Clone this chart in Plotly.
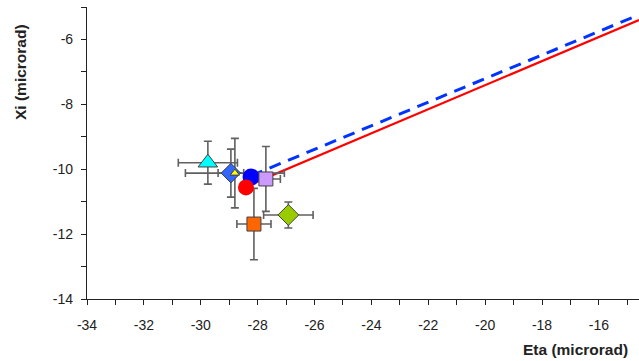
import plotly.graph_objects as go

# ---- data ----
names = ["cyan triangle", "blue diamond", "yellow triangle", "blue circle",
         "red circle", "lilac square", "orange square", "green diamond"]
eta = [-29.75, -28.94, -28.80, -28.23, -28.41, -27.71, -28.13, -26.92]
xi = [-9.80, -10.12, -10.12, -10.24, -10.56, -10.30, -11.69, -11.41]
eta_err = [1.04, 0.45, 1.74, 0.0, 0.0, 0.51, 0.60, 0.87]
xi_err = [0.66, 0.74, 1.07, 0.0, 0.0, 1.00, 1.10, 0.40]
symbols = ["triangle-up", "diamond", "triangle-up", "circle", "circle",
           "square", "square", "diamond"]
colors = ["#00FFFF", "#3366FF", "#FFFF00", "#0000FF", "#FF0000",
          "#CC99FF", "#FF6600", "#99CC00"]
sizes = [17, 15, 8, 17, 16, 14, 14, 16]
outlined = [True, True, True, False, False, True, True, True]

x_tickvals = [-34, -32, -30, -28, -26, -24, -22, -20, -18, -16]
x_ticktext = ["-34", "-32", "-30", "-28", "-26", "-24", "-22", "-20", "-18", "-16"]
y_tickvals = [-14, -12, -10, -8, -6]
y_ticktext = ["-14", "-12", "-10", "-8", "-6"]

# trend lines
red_eta = [-28.41, -14.59]
red_xi = [-10.53, -5.40]
blue_eta = [-28.23, -14.59]
blue_xi = [-10.20, -5.24]

fig = go.Figure()

fig.add_trace(go.Scatter(x=red_eta, y=red_xi, mode="lines",
                         line=dict(color="#FF0000", width=2.2), showlegend=False))
fig.add_trace(go.Scatter(x=blue_eta, y=blue_xi, mode="lines",
                         line=dict(color="#0033FF", width=3, dash="12px,8px"),
                         showlegend=False))

# error bars (behind all markers)
for i in range(len(names)):
    if eta_err[i] == 0 and xi_err[i] == 0:
        continue
    fig.add_trace(go.Scatter(
        x=[eta[i]], y=[xi[i]], mode="markers",
        marker=dict(color="rgba(0,0,0,0)", size=1),
        error_x=dict(type="constant", value=eta_err[i], color="#606060",
                     thickness=1.6, width=4),
        error_y=dict(type="constant", value=xi_err[i], color="#606060",
                     thickness=1.6, width=4),
        showlegend=False, hoverinfo="skip"))

# markers
for i in range(len(names)):
    fig.add_trace(go.Scatter(
        x=[eta[i]], y=[xi[i]], mode="markers", name=names[i],
        marker=dict(symbol=symbols[i], color=colors[i], size=sizes[i],
                    line=dict(color="#404040", width=1 if outlined[i] else 0)),
        showlegend=False))

axis_font = dict(family="Liberation Sans, Arial, sans-serif", size=14, color="#222222")
title_font = dict(family="Liberation Sans, Arial, sans-serif", size=15.5, color="#222222")

fig.update_layout(
    width=639, height=361,
    margin=dict(l=87, r=0, t=7, b=62),
    paper_bgcolor="white", plot_bgcolor="white",
    font=axis_font,
    xaxis=dict(range=[-34, -14.59], tickvals=x_tickvals, ticktext=x_ticktext,
               showgrid=False, zeroline=False,
               showline=True, linecolor="#222222", linewidth=1.2,
               ticks="outside", ticklen=5, tickcolor="#222222", tickwidth=1,
               minor=dict(dtick=1, tick0=-34, ticks="outside", ticklen=5, tickcolor="#222222"),
               ticklabelstandoff=8, tickfont=axis_font),
    yaxis=dict(range=[-14, -5], tickvals=y_tickvals, ticktext=y_ticktext,
               showgrid=False, zeroline=False,
               showline=True, linecolor="#222222", linewidth=1.2,
               ticks="outside", ticklen=5, tickcolor="#222222", tickwidth=1,
               minor=dict(dtick=1, tick0=-14, ticks="outside", ticklen=5, tickcolor="#222222"),
               ticklabelstandoff=5, tickfont=axis_font),
    annotations=[
        dict(text="<b>Eta (microrad)</b>", xref="paper", yref="paper",
             x=(630 - 87) / 552, y=(299 - 349) / 292, xanchor="right", yanchor="middle",
             showarrow=False, font=title_font),
        dict(text="<b>Xi (microrad)</b>", xref="paper", yref="paper",
             x=(20 - 87) / 552, y=(299 - 72) / 292, xanchor="center", yanchor="middle",
             textangle=-90, showarrow=False, font=title_font),
    ],
)

fig.write_html("out.html", config={"displayModeBar": False},
               post_script="document.body.style.margin='0';document.body.style.padding='0';document.body.style.overflow='hidden';")
